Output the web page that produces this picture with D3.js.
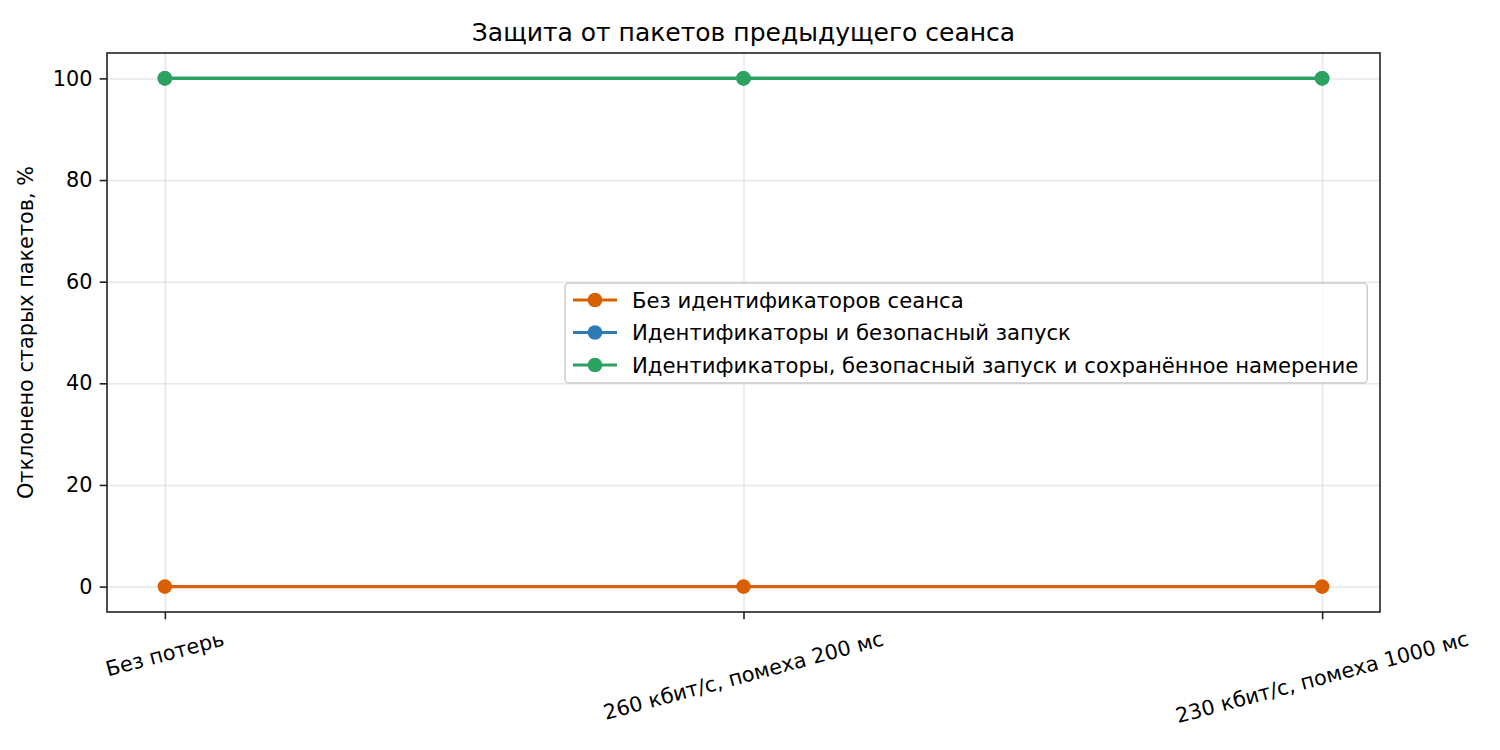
<!DOCTYPE html>
<html>
<head>
<meta charset="utf-8">
<script src="https://cdn.jsdelivr.net/npm/d3@7"></script>
<style>
  body { margin: 0; background: #fff; }
  svg, svg text { font-family: "DejaVu Sans", sans-serif; }
</style>
</head>
<body>
<svg id="chart"></svg>
<script>
const width = 1500;
const height = 750;
const margin = { top: 53, right: 120, bottom: 138, left: 107 };
const innerWidth = width - margin.left - margin.right;
const innerHeight = height - margin.top - margin.bottom;

const categories = ["Без потерь", "260 кбит/с, помеха 200 мс", "230 кбит/с, помеха 1000 мс"];
const seriesNames = [
  "Без идентификаторов сеанса",
  "Идентификаторы и безопасный запуск",
  "Идентификаторы, безопасный запуск и сохранённое намерение"
];
const seriesColors = ["#d95f02", "#2c7bb6", "#2ca25f"];
const noIds = [0, 0, 0];
const idsSafeStart = [100, 100, 100];
const idsSafeStartIntent = [100, 100, 100];
const yTicks = [0, 20, 40, 60, 80, 100];

const series = [noIds, idsSafeStart, idsSafeStartIntent].map((values, i) => ({
  name: seriesNames[i],
  color: seriesColors[i],
  values
}));

const fontSize = 20.8;
const legendFontSize = 21.2;
const fontFamily = "DejaVu Sans";

const svg = d3.select("#chart").attr("width", width).attr("height", height);
const root = svg.append("g").attr("transform", `translate(${margin.left},${margin.top})`);

const x = d3.scaleLinear().domain([-0.1, categories.length - 0.9]).range([0, innerWidth]);
const y = d3.scaleLinear().domain([-5, 105]).range([innerHeight, 0]);

// grid
root.append("g")
  .attr("transform", `translate(0,${innerHeight})`)
  .call(d3.axisBottom(x).tickValues(d3.range(categories.length)).tickSize(-innerHeight).tickFormat(""))
  .call((g) => g.selectAll("line").attr("stroke", "#b0b0b0").attr("stroke-opacity", 0.3).attr("stroke-width", 1.5))
  .call((g) => g.select(".domain").remove())
  .call((g) => g.selectAll("text").remove());

root.append("g")
  .call(d3.axisLeft(y).tickValues(yTicks).tickSize(-innerWidth).tickFormat(""))
  .call((g) => g.selectAll("line").attr("stroke", "#b0b0b0").attr("stroke-opacity", 0.3).attr("stroke-width", 1.5))
  .call((g) => g.select(".domain").remove())
  .call((g) => g.selectAll("text").remove());

// lines
const line = d3.line().x((d, i) => x(i)).y((d) => y(d));
const layer = root.append("g");
series.forEach((s) => {
  layer.append("path")
    .attr("d", line(s.values))
    .attr("fill", "none")
    .attr("stroke", s.color)
    .attr("stroke-width", 3.1);
  layer.selectAll(null)
    .data(s.values)
    .enter()
    .append("circle")
    .attr("cx", (d, i) => x(i))
    .attr("cy", (d) => y(d))
    .attr("r", 7.3)
    .attr("fill", s.color);
});

// frame
root.append("rect")
  .attr("width", innerWidth)
  .attr("height", innerHeight)
  .attr("fill", "none")
  .attr("stroke", "#222")
  .attr("stroke-width", 1.6);

// y axis
root.append("g")
  .call(d3.axisLeft(y).tickValues(yTicks).tickSize(7.3).tickPadding(7.3))
  .attr("font-family", fontFamily)
  .attr("font-size", fontSize)
  .call((g) => g.select(".domain").remove())
  .call((g) => g.selectAll("line").attr("stroke", "#222").attr("stroke-width", 1.6))
  .call((g) => g.selectAll("text").attr("fill", "#000"));

// x axis
const xAxisG = root.append("g")
  .attr("transform", `translate(0,${innerHeight})`)
  .call(d3.axisBottom(x).tickValues(d3.range(categories.length)).tickSize(7.3).tickFormat(""))
  .attr("font-family", fontFamily)
  .attr("font-size", fontSize)
  .call((g) => g.select(".domain").remove())
  .call((g) => g.selectAll("text").remove())
  .call((g) => g.selectAll("line").attr("stroke", "#222").attr("stroke-width", 1.6));

const angle = 15 * Math.PI / 180;
categories.forEach((c, i) => {
  const t = xAxisG.append("text")
    .attr("fill", "#000")
    .attr("text-anchor", "middle")
    .attr("dominant-baseline", "central")
    .text(c);
  const w = t.node().getComputedTextLength();
  const h = fontSize * 1.17;
  const bh = w * Math.sin(angle) + h * Math.cos(angle);
  const top = 7.3 + 7.3;
  t.attr("transform", `translate(${x(i)},${top + bh / 2}) rotate(-15)`);
});

// y label
root.append("text")
  .attr("transform", `translate(${-74},${innerHeight / 2}) rotate(-90)`)
  .attr("text-anchor", "middle")
  .attr("font-size", fontSize)
  .text("Отклонено старых пакетов, %");

// title
root.append("text")
  .attr("x", innerWidth / 2)
  .attr("y", -12)
  .attr("text-anchor", "middle")
  .attr("font-size", 25)
  .text("Защита от пакетов предыдущего сеанса");

// legend
const legend = root.append("g").attr("transform", `translate(${565 - margin.left},${283 - margin.top})`);
const legendRow = 32.5;
const legendItems = legend.selectAll("g.item")
  .data(series)
  .enter()
  .append("g")
  .attr("class", "item")
  .attr("transform", (d, i) => `translate(0,${17 + i * legendRow})`);
legendItems.append("line")
  .attr("x1", 8).attr("x2", 52)
  .attr("stroke", (d) => d.color).attr("stroke-width", 3.1);
legendItems.append("circle")
  .attr("cx", 30).attr("r", 7.3)
  .attr("fill", (d) => d.color);
legendItems.append("text")
  .attr("x", 67)
  .attr("dominant-baseline", "central")
  .attr("font-size", legendFontSize)
  .text((d) => d.name);

const legendW = d3.max(legendItems.selectAll("text").nodes(), (n) => n.getComputedTextLength()) + 67 + 9;
legend.insert("rect", ":first-child")
  .attr("width", legendW)
  .attr("height", 100)
  .attr("rx", 4)
  .attr("fill", "#fff")
  .attr("fill-opacity", 0.8)
  .attr("stroke", "#ccc")
  .attr("stroke-width", 1.5);
</script>
</body>
</html>
